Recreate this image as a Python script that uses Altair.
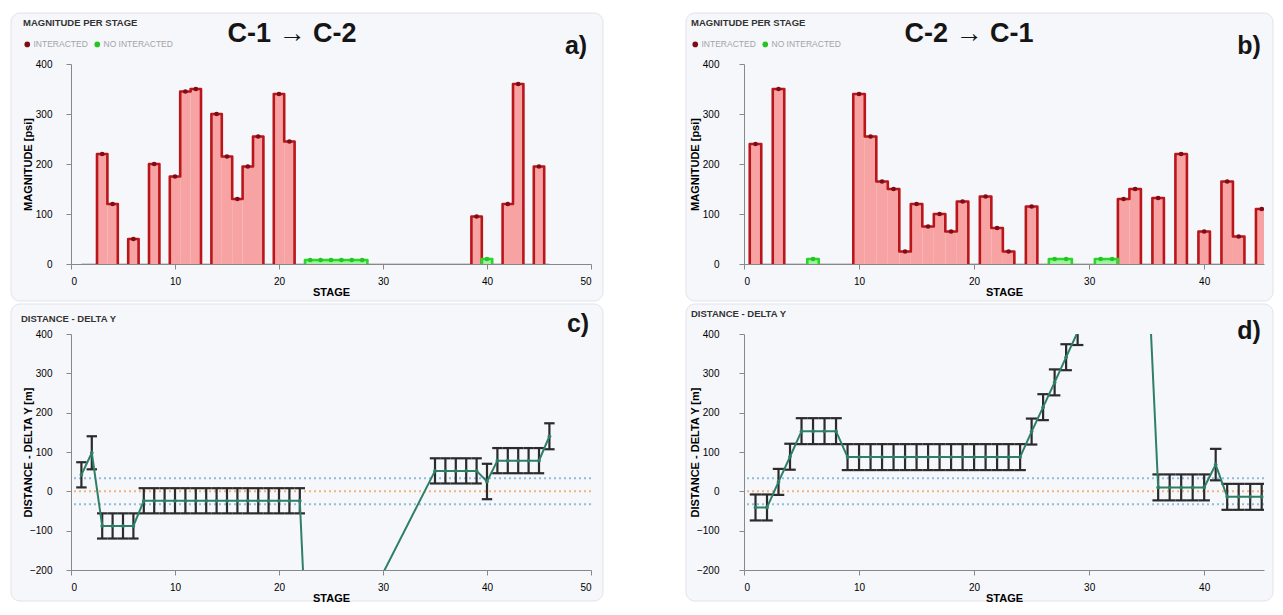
import altair as alt
import pandas as pd

# ---------------- data ----------------
# Panel a) C-1 -> C-2 : magnitude per stage
A_STAGE = list(range(1, 47))
A_MAG = [0, 0, 220, 120, 0, 50, 0, 200, 0, 175,
         345, 350, 0, 300, 215, 130, 195, 255, 0, 340,
         245, 0, 8, 8, 8, 8, 8, 8, 0, 0,
         0, 0, 0, 0, 0, 0, 0, 0, 95, 10,
         0, 120, 360, 0, 195, 0]
# I = interacted, N = no interacted, . = none
A_CODE = "..II.I.I.III.IIIII.II." + "NNNNNN" + ".........." + "IN.II.I."

# Panel b) C-2 -> C-1 : magnitude per stage
B_STAGE = list(range(1, 46))
B_MAG = [240, 0, 350, 0, 0, 10, 0, 0, 0, 340,
         255, 165, 150, 25, 120, 75, 100, 65, 125, 0,
         135, 72, 25, 0, 115, 0, 10, 10, 0, 0,
         10, 10, 130, 150, 0, 132, 0, 220, 0, 65,
         0, 165, 55, 0, 110]
B_CODE = "I.I..N...I" + "IIIIIIIII." + "III.I.NN.." + "NNII.I.I.I" + ".II.I"

# Panel c) distance - delta Y (C-1 -> C-2)
C_STAGE = [1, 2, 3, 4, 5, 6, 7, 8, 9, 10, 11, 12, 13, 14, 15, 16, 17, 18, 19, 20,
           21, 22, 23, 29, 35, 36, 37, 38, 39, 40, 41, 42, 43, 44, 45, 46]
C_DY = [42, 98, -88, -88, -88, -88, -24, -24, -24, -24, -24, -24, -24, -24, -24, -24,
        -24, -24, -24, -24, -24, -24, -600, -260, 52, 52, 52, 52, 52, 25,
        78, 78, 78, 78, 78, 140]
C_ERR = [32, 42, 32, 32, 32, 32, 32, 32, 32, 32, 32, 32, 32, 32, 32, 32,
         32, 32, 32, 32, 32, 32, 32, 32, 32, 32, 32, 32, 32, 45,
         32, 32, 32, 32, 32, 33]

# Panel d) distance - delta Y (C-2 -> C-1)
D_STAGE = [1, 2, 3, 4, 5, 6, 7, 8, 9, 10, 11, 12, 13, 14, 15, 16, 17, 18, 19, 20,
           21, 22, 23, 24, 25, 26, 27, 28, 29, 35, 36, 37, 38, 39, 40, 41, 42, 43, 44, 45]
D_DY = [-41, -41, 24, 88, 153, 153, 153, 153, 87, 87, 87, 87, 87, 87, 87, 87,
        87, 87, 87, 87, 87, 87, 87, 87, 152, 214, 277, 341, 405, 640,
        10, 10, 10, 10, 10, 68, -14, -14, -14, -14]
D_ERR = [33, 33, 33, 33, 33, 33, 33, 33, 33, 33, 33, 33, 33, 33, 33, 33,
         33, 33, 33, 33, 33, 33, 33, 33, 33, 33, 33, 33, 33, 33,
         33, 33, 33, 33, 33, 40, 33, 33, 33, 33]

THRESH_Y = [33, 0, -33]
THRESH_KIND = ["limit", "zero", "limit"]

STATUS_NAMES = {"I": "INTERACTED", "N": "NO INTERACTED", ".": ""}
STATUS_DOMAIN = ["INTERACTED", "NO INTERACTED"]

# ---------------- styling ----------------
FONT = "Liberation Sans, Arial, DejaVu Sans, sans-serif"
CARD_FILL = "#f6f7fb"
CARD_STROKE = "#e2e3ea"
FILL_COLORS = ["#f7a3a3", "#9ff09f"]
LINE_COLORS = ["#b8161b", "#2bd62b"]
DOT_COLORS = ["#7d0c15", "#25c425"]
TEAL = "#2f7f66"
ERRC = "#2b2b2b"
W = 520
H_TOP = 200
H_BOT = 236


def card(x0, x1, y0, y1):
    return alt.Chart(alt.Data(values=[{}])).mark_rect(
        fill=CARD_FILL, stroke=CARD_STROKE, strokeWidth=1, cornerRadius=9
    ).encode(x=alt.value(x0), x2=alt.value(x1), y=alt.value(y0), y2=alt.value(y1))


def label(text, x, y, size, align="left", color="#333333", weight="bold"):
    return alt.Chart(alt.Data(values=[{}])).mark_text(
        text=text, align=align, baseline="middle", fontSize=size,
        fontWeight=weight, font=FONT, color=color
    ).encode(x=alt.value(x), y=alt.value(y))


def xaxis(ticks):
    return alt.Axis(values=ticks, title="STAGE", labelPadding=7, titleY=22,
                    grid=False, zindex=1)


def xenc(field, xmax, ticks):
    return alt.X(f"{field}:Q",
                 scale=alt.Scale(domain=[0, xmax], nice=False, zero=False),
                 axis=xaxis(ticks))


def yenc(field, dom, ticks, title, lp, tx):
    return alt.Y(f"{field}:Q",
                 scale=alt.Scale(domain=dom, nice=False, zero=False),
                 axis=alt.Axis(values=ticks, title=title, labelPadding=lp,
                               titleX=tx, grid=False, zindex=1))


def outline_table(stages, mags, status):
    segments, cur = [], []
    for s, v, st in zip(stages, mags, status):
        if st == "":
            if cur:
                segments.append(cur)
                cur = []
            continue
        if cur and cur[-1][2] != st:
            segments.append(cur)
            cur = []
        cur.append((s, v, st))
    if cur:
        segments.append(cur)
    rows, k = [], 0
    for i, seg in enumerate(segments):
        pts = [(seg[0][0] - 0.5, 0)]
        for s, v, _ in seg:
            pts += [(s - 0.5, v), (s + 0.5, v)]
        pts.append((seg[-1][0] + 0.5, 0))
        for x, y in pts:
            rows.append({"x": x, "y": y, "seg": i, "status": seg[0][2], "k": k})
            k += 1
    return pd.DataFrame(rows)


def mag_panel(stages, mags, codes, xmax, xticks, cx0, cx1, head_x, big, big_x, tag, lp, tx):
    status = [STATUS_NAMES[c] for c in codes]
    df = pd.DataFrame({"stage": stages, "mag": mags, "status": status})
    on = df[df.status != ""]
    ol = outline_table(stages, mags, status)
    yt = [0, 100, 200, 300, 400]
    Y = lambda f: yenc(f, [0, 400], yt, "MAGNITUDE [psi]", lp, tx)
    X = lambda f: xenc(f, xmax, xticks)

    layers = [card(cx0, cx1, -51, H_TOP + 37)]
    layers.append(alt.Chart(df).mark_rule(color="#c4c4c8", strokeWidth=1.3).encode(
        x=alt.X("min(stage):Q", scale=alt.Scale(domain=[0, xmax], nice=False, zero=False),
                axis=xaxis(xticks)),
        x2="max(stage):Q",
        y=alt.datum(0),
    ))
    for name, fc in zip(STATUS_DOMAIN, FILL_COLORS):
        layers.append(alt.Chart(on).transform_filter(
            alt.datum.status == name
        ).transform_calculate(
            x0="datum.stage - 0.5", x1="datum.stage + 0.5"
        ).mark_rect(clip=True, fill=fc).encode(
            x=X("x0"), x2="x1:Q", y=Y("mag"), y2=alt.datum(0),
        ))
    for name, lc in zip(STATUS_DOMAIN, LINE_COLORS):
        layers.append(alt.Chart(ol).transform_filter(
            alt.datum.status == name
        ).mark_line(strokeWidth=2.6, strokeJoin="round", strokeCap="round", clip=True, color=lc).encode(
            x=X("x"), y=Y("y"), detail="seg:N", order="k:Q",
        ))
    layers.append(alt.Chart(on).mark_circle(size=22, opacity=1).encode(
        x=X("stage"), y=Y("mag"),
        color=alt.Color("status:N", scale=alt.Scale(domain=STATUS_DOMAIN, range=DOT_COLORS),
                        legend=alt.Legend(orient="none", legendX=head_x, legendY=-24,
                                          direction="horizontal", title=None,
                                          labelFontSize=8.5, labelColor="#a3a3a8", labelFont=FONT,
                                          symbolSize=32, symbolType="circle", columnPadding=5,
                                          labelOffset=2, zindex=1)),
    ))
    layers += [
        label("MAGNITUDE PER STAGE", head_x, -41, 9.5),
        label(big, big_x, -30, 27, align="center", color="#151515"),
        label(tag, 505, -18, 25, align="center", color="#151515"),
    ]
    return alt.layer(*layers).properties(width=W, height=H_TOP)


def dist_panel(stages, dy, err, xmax, xticks, cx0, cx1, head_x, head_y, tag, tag_x, tag_y, lp, tx):
    df = pd.DataFrame({"stage": stages, "dy": dy, "err": err})
    thr = pd.DataFrame({"y": THRESH_Y, "kind": THRESH_KIND})
    yt = [-200, -100, 0, 100, 200, 300, 400]
    Y = lambda f: yenc(f, [-200, 400], yt, "DISTANCE - DELTA Y [m]", lp, tx)
    X = lambda f: xenc(f, xmax, xticks)
    base = alt.Chart(df).transform_calculate(
        lo="datum.dy - datum.err", hi="datum.dy + datum.err",
        c0="datum.stage - 0.5", c1="datum.stage + 0.5",
    )
    thr_lim = alt.Chart(thr).transform_filter(alt.datum.kind == "limit").mark_rule(
        strokeDash=[2, 3], strokeWidth=2, color="#8fbde0").encode(y=Y("y"))
    thr_zero = alt.Chart(thr).transform_filter(alt.datum.kind == "zero").mark_rule(
        strokeDash=[2, 3], strokeWidth=2, color="#f2b47a").encode(y=Y("y"))
    vbar = base.mark_rule(color=ERRC, strokeWidth=2.2, clip=True).encode(x=X("stage"), y=Y("lo"), y2="hi:Q")
    cap_lo = base.mark_rule(color=ERRC, strokeWidth=2.2, clip=True).encode(x=X("c0"), x2="c1:Q", y=Y("lo"))
    cap_hi = base.mark_rule(color=ERRC, strokeWidth=2.2, clip=True).encode(x=X("c0"), x2="c1:Q", y=Y("hi"))
    line = base.mark_line(color=TEAL, strokeWidth=2, clip=True).encode(x=X("stage"), y=Y("dy"))
    pts = base.mark_circle(color=TEAL, size=14, opacity=1, clip=True).encode(x=X("stage"), y=Y("dy"))
    return alt.layer(
        card(cx0, cx1, -30, H_BOT + 31),
        thr_lim, thr_zero, vbar, cap_lo, cap_hi, line, pts,
        label("DISTANCE - DELTA Y", head_x, head_y, 9.5),
        label(tag, tag_x, tag_y, 25, align="center", color="#151515"),
    ).properties(width=W, height=H_BOT)


pa = mag_panel(A_STAGE, A_MAG, A_CODE, 50, [0, 10, 20, 30, 40, 50], -60, W + 12, -48,
               "C-1 → C-2", 221, "a)", 14, -38)
pb = mag_panel(B_STAGE, B_MAG, B_CODE, 45.2, [0, 10, 20, 30, 40], -58, W + 9, -53,
               "C-2 → C-1", 225, "b)", 20, -44)
pc = dist_panel(C_STAGE, C_DY, C_ERR, 50, [0, 10, 20, 30, 40, 50], -60, W + 12, -50, -15,
                "c)", 507, -10, 14, -38)
pd_ = dist_panel(D_STAGE, D_DY, D_ERR, 45.2, [0, 10, 20, 30, 40], -58, W + 9, -53, -20,
                 "d)", 505, -3, 20, -44)

chart = alt.concat(
    pa, pb, pc, pd_, columns=2, spacing={"row": 70, "column": 153}, bounds="flush"
).resolve_scale(
    x="independent", y="independent", color="independent"
).resolve_legend(
    color="independent"
).properties(
    padding={"left": 2, "top": 4, "right": 0, "bottom": 0}
).configure_view(
    stroke="transparent"
).configure_axis(
    labelFont=FONT, labelFontSize=7.5, labelFontWeight="bold", labelColor="#3a3a3a",
    titleFont=FONT, titleFontSize=8.5, titleFontWeight="bold", titleColor="#2a2a2a",
    domain=False, ticks=False, grid=False,
).configure(background="white")

chart.save("out.html", embed_options={"renderer": "svg", "actions": False})
